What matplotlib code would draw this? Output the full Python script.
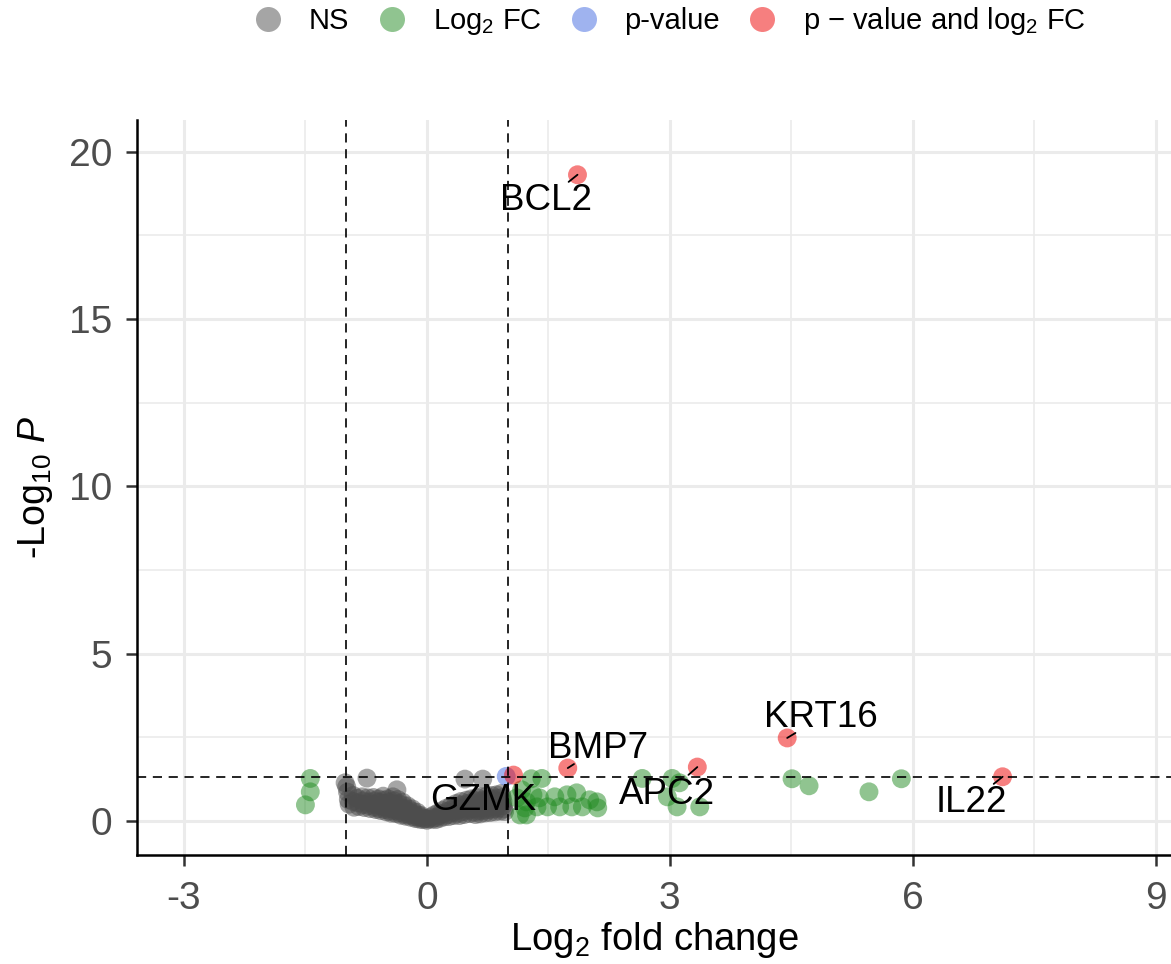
import matplotlib.pyplot as plt
from matplotlib.lines import Line2D

plt.rcParams['font.family'] = ['Liberation Sans', 'DejaVu Sans']
plt.rcParams['mathtext.fontset'] = 'custom'
plt.rcParams['mathtext.rm'] = 'Liberation Sans'
plt.rcParams['mathtext.it'] = 'Liberation Sans:italic'
plt.rcParams['mathtext.bf'] = 'Liberation Sans:bold'

# cut-offs: |log2 FC| > 1 and p < 0.05
fc_cutoff = 1.0
logp_cutoff = 1.30

# not significant (log2 FC, -log10 p)
ns_points = [
    (-1.01, 1.14), (-0.99, 1.02), (-0.74, 1.28), (-0.37, 0.93), (0.47, 1.25), (0.69, 1.25),
    (-0.98, 0.86), (-0.97, 0.64), (-0.96, 0.50),
    (-0.91, 0.76), (-0.91, 0.58), (-0.90, 0.41),
    (-0.86, 0.68), (-0.85, 0.54), (-0.84, 0.43),
    (-0.80, 0.72), (-0.79, 0.60), (-0.78, 0.49), (-0.77, 0.40),
    (-0.73, 0.69), (-0.72, 0.57), (-0.71, 0.46), (-0.70, 0.37),
    (-0.66, 0.70), (-0.65, 0.60), (-0.65, 0.50), (-0.64, 0.41), (-0.63, 0.34),
    (-0.60, 0.66), (-0.59, 0.56), (-0.58, 0.46), (-0.58, 0.37), (-0.57, 0.31),
    (-0.54, 0.74), (-0.53, 0.62), (-0.52, 0.52), (-0.52, 0.42), (-0.51, 0.34), (-0.50, 0.27),
    (-0.48, 0.66), (-0.47, 0.56), (-0.46, 0.46), (-0.46, 0.37), (-0.45, 0.29), (-0.44, 0.23),
    (-0.42, 0.72), (-0.41, 0.60), (-0.40, 0.50), (-0.40, 0.40), (-0.39, 0.31), (-0.38, 0.22),
    (-0.36, 0.64), (-0.35, 0.52), (-0.34, 0.42), (-0.34, 0.32), (-0.33, 0.24), (-0.32, 0.17),
    (-0.30, 0.56), (-0.29, 0.46), (-0.28, 0.37), (-0.28, 0.28), (-0.27, 0.20), (-0.26, 0.14),
    (-0.24, 0.45), (-0.23, 0.36), (-0.22, 0.27), (-0.21, 0.18), (-0.20, 0.11),
    (-0.18, 0.36), (-0.17, 0.28), (-0.16, 0.20), (-0.15, 0.12), (-0.14, 0.07),
    (-0.12, 0.26), (-0.11, 0.18), (-0.10, 0.11), (-0.09, 0.05),
    (-0.07, 0.16), (-0.06, 0.10), (-0.05, 0.04),
    (-0.02, 0.07), (0.00, 0.02), (0.02, 0.06),
    (0.05, 0.12), (0.06, 0.05),
    (0.09, 0.18), (0.10, 0.09), (0.11, 0.04),
    (0.14, 0.24), (0.15, 0.15), (0.16, 0.08),
    (0.19, 0.31), (0.20, 0.21), (0.21, 0.12),
    (0.24, 0.38), (0.25, 0.28), (0.26, 0.19), (0.27, 0.13),
    (0.30, 0.45), (0.31, 0.35), (0.32, 0.25), (0.33, 0.16),
    (0.36, 0.52), (0.37, 0.42), (0.38, 0.32), (0.39, 0.23), (0.40, 0.16),
    (0.42, 0.58), (0.43, 0.48), (0.44, 0.38), (0.45, 0.28), (0.46, 0.19),
    (0.49, 0.62), (0.50, 0.52), (0.51, 0.42), (0.52, 0.32), (0.53, 0.22),
    (0.55, 0.66), (0.56, 0.56), (0.57, 0.46), (0.58, 0.36), (0.59, 0.26), (0.60, 0.19),
    (0.62, 0.70), (0.63, 0.60), (0.64, 0.50), (0.64, 0.40), (0.65, 0.30), (0.66, 0.21),
    (0.68, 0.72), (0.69, 0.62), (0.70, 0.52), (0.70, 0.42), (0.71, 0.32), (0.72, 0.24),
    (0.74, 0.74), (0.75, 0.64), (0.76, 0.54), (0.76, 0.44), (0.77, 0.34), (0.78, 0.25),
    (0.80, 0.76), (0.81, 0.66), (0.82, 0.56), (0.82, 0.46), (0.83, 0.36), (0.84, 0.27),
    (0.86, 0.78), (0.87, 0.68), (0.88, 0.58), (0.88, 0.48), (0.89, 0.38), (0.90, 0.29),
    (0.92, 0.82), (0.93, 0.70), (0.94, 0.58), (0.94, 0.46), (0.95, 0.36), (0.96, 0.28),
]

# fold change only
fc_points = [
    (-1.44, 1.27), (-1.44, 0.87), (-1.50, 0.48),
    (1.29, 1.26), (1.42, 1.27), (1.17, 0.93), (1.31, 0.78), (1.39, 0.69),
    (1.58, 0.72), (1.73, 0.78), (1.85, 0.84), (2.01, 0.63), (2.10, 0.57),
    (2.11, 0.39), (1.92, 0.42), (1.79, 0.42), (1.64, 0.42), (1.49, 0.42),
    (1.36, 0.42), (1.21, 0.39), (1.15, 0.18), (1.23, 0.18), (1.11, 0.69),
    (1.23, 0.57),
    (2.66, 1.27), (3.03, 1.27), (3.12, 1.14), (2.97, 0.72), (3.09, 0.42),
    (3.37, 0.42),
    (4.51, 1.26), (4.72, 1.05), (5.46, 0.87), (5.86, 1.26),
]

# p-value only
p_points = [(0.98, 1.33)]

# p-value and fold change
both_points = [(1.86, 19.31), (4.45, 2.48), (3.34, 1.61), (1.74, 1.58),
               (7.11, 1.32), (1.07, 1.37)]

# labelled genes
genes = ['BCL2', 'KRT16', 'APC2', 'BMP7', 'IL22', 'GZMK']
gene_fc = [1.86, 4.45, 3.34, 1.74, 7.11, 0.69]
gene_logp = [19.31, 2.48, 1.61, 1.58, 1.32, 0.62]

groups = [
    ('NS', ns_points, '#4D4D4D'),
    ('Log$_{2}$ FC', fc_points, '#228B22'),
    ('p-value', p_points, '#4169E1'),
    ('p \u2212 value and log$_{2}$ FC', both_points, '#EE0000'),
]

fig = plt.figure(figsize=(11.71, 9.64), dpi=100)
ax = fig.add_axes([0.117, 0.113, 0.883, 0.763])

for name, pts, col in groups:
    xs = [p[0] for p in pts]
    ys = [p[1] for p in pts]
    ax.scatter(xs, ys, s=185, color=col, alpha=0.5, edgecolors='none', zorder=2)

ax.axvline(-fc_cutoff, color='black', lw=1.2, ls=(0, (5.5, 4)), zorder=3)
ax.axvline(fc_cutoff, color='black', lw=1.2, ls=(0, (5.5, 4)), zorder=3)
ax.axhline(logp_cutoff, color='black', lw=1.2, ls=(0, (5.5, 4)), zorder=3)

# label placement (text centre) for each gene; short leader lines to the points
label_xy = {
    'BCL2': (1.47, 18.55),
    'KRT16': (4.86, 3.08),
    'APC2': (2.96, 0.80),
    'BMP7': (2.12, 2.17),
    'IL22': (6.72, 0.56),
    'GZMK': (0.69, 0.62),
}
for g, gx, gy in zip(genes, gene_fc, gene_logp):
    tx, ty = label_xy[g]
    if g == 'GZMK':
        ax.text(tx, ty, g, fontsize=26.5, ha='center', va='center', zorder=4)
        continue
    ax.annotate(g, xy=(gx, gy), xytext=(tx, ty), fontsize=26.5,
                ha='center', va='center', zorder=4,
                arrowprops=dict(arrowstyle='-', color='black', lw=1.3,
                                patchA=None, shrinkA=21, shrinkB=0))

ax.set_xlim(-3.58, 9.19)
ax.set_ylim(-1.02, 20.96)
ax.set_xticks([-3, 0, 3, 6, 9])
ax.set_xticklabels(['-3', '0', '3', '6', '9'])
ax.set_yticks([0, 5, 10, 15, 20])
ax.set_xticks([-1.5, 1.5, 4.5, 7.5], minor=True)
ax.set_yticks([2.5, 7.5, 12.5, 17.5], minor=True)
ax.grid(which='major', color='#EBEBEB', lw=2.2, zorder=0)
ax.grid(which='minor', color='#EBEBEB', lw=1.2, zorder=0)
ax.set_axisbelow(True)

for side in ['top', 'right']:
    ax.spines[side].set_visible(False)
for side in ['left', 'bottom']:
    ax.spines[side].set_linewidth(1.8)
    ax.spines[side].set_color('black')
ax.tick_params(which='major', length=8, width=1.8, color='#333333',
               labelsize=28, labelcolor='#4D4D4D', pad=10)
ax.tick_params(axis='x', pad=11)
ax.tick_params(which='minor', length=0)

ax.set_xlabel('Log$_{2}$ fold change', fontsize=27.5, labelpad=2)
ax.set_ylabel('-Log$_{10}$ $\\mathit{P}$', fontsize=27, labelpad=10)

handles = [Line2D([], [], ls='none', marker='o', markersize=18,
                  markerfacecolor=col, markeredgecolor='none', alpha=0.5)
           for _, _, col in groups]
fig.legend(handles, [g[0] for g in groups], loc='upper center',
           bbox_to_anchor=(0.572, 1.022), ncol=4, frameon=False, fontsize=21,
           handlelength=1.0, handletextpad=0.9, columnspacing=0.95)

fig.savefig('out.png', dpi=100)
